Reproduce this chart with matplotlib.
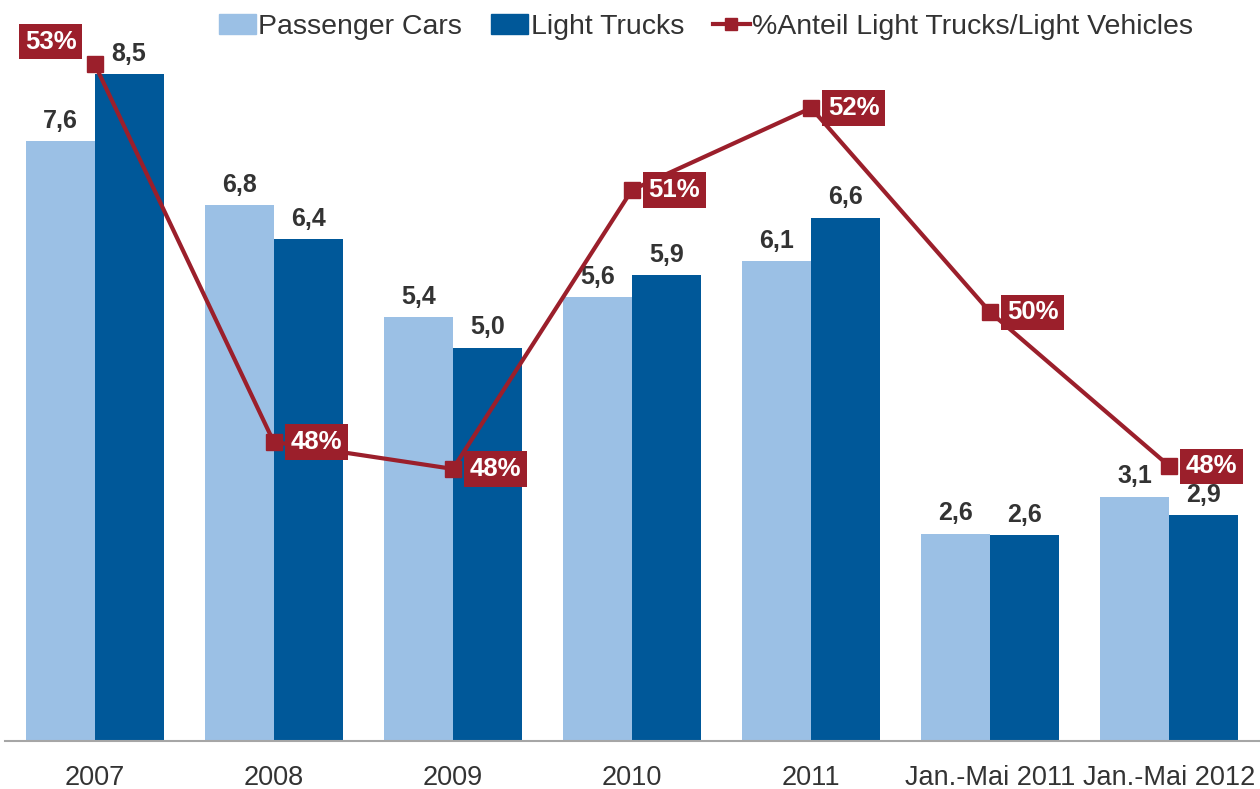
import matplotlib
matplotlib.use("Agg")
import matplotlib.pyplot as plt
import numpy as np
from matplotlib.patches import Patch
from matplotlib.lines import Line2D

plt.rcParams['font.family'] = ['Liberation Sans', 'DejaVu Sans']

categories = ["2007", "2008", "2009", "2010", "2011", "Jan.-Mai 2011", "Jan.-Mai 2012"]
passenger_cars = [7.61, 6.80, 5.38, 5.63, 6.09, 2.63, 3.10]
light_trucks = [8.46, 6.37, 4.99, 5.91, 6.64, 2.61, 2.87]
share_pct = [52.59, 48.39, 48.09, 51.19, 52.10, 49.83, 48.12]

c_light = "#9BC0E5"
c_dark = "#005899"
c_red = "#9B1F2B"
c_text = "#333333"

fig = plt.figure(figsize=(12.6, 7.89), dpi=100)
ax = fig.add_axes([5/1260, 48/789, 1254/1260, 741/789])
x = np.arange(len(categories))
w = 0.385

b1 = ax.bar(x - w/2, passenger_cars, w, color=c_light, zorder=2)
b2 = ax.bar(x + w/2, light_trucks, w, color=c_dark, zorder=2)

for bars, vals in ((b1, passenger_cars), (b2, light_trucks)):
    for r, v in zip(bars, vals):
        ax.annotate(f"{v:.1f}".replace(".", ","), (r.get_x() + r.get_width()/2, r.get_height()),
                    xytext=(0, 6), textcoords="offset points", ha="center", va="bottom",
                    fontsize=18, fontweight="bold", color=c_text)

ax.set_xlim(-0.5, len(categories) - 0.5)
ax.set_ylim(0, 741/78.8)
ax.set_yticks([])
ax.set_xticks(x)
ax.set_xticklabels(categories, fontsize=19.5, color=c_text)
ax.tick_params(axis='x', length=0, pad=17)
for s in ("top", "right", "left"):
    ax.spines[s].set_visible(False)
ax.spines["bottom"].set_color("#A6A6A6")
ax.spines["bottom"].set_linewidth(1.5)
ax.patch.set_alpha(0)

ax2 = ax.twinx()
ax2.set_ylim(53.3 - 741/90, 53.3)
ax2.set_yticks([])
for s in ax2.spines.values():
    s.set_visible(False)
ax2.plot(x, share_pct, color=c_red, lw=3, marker="s", markersize=11, zorder=5)

for i, (xi, p) in enumerate(zip(x, share_pct)):
    if i == 0:
        off, ha, va = (-13, 16), "right", "center"
    else:
        off, ha, va = (12, 0), "left", "center"
    ax2.annotate(f"{p:.0f}%", (xi, p), xytext=off, textcoords="offset points",
                 ha=ha, va=va, fontsize=18.5, fontweight="bold", color="white",
                 bbox=dict(boxstyle="square,pad=0.22", fc=c_red, ec="none"), zorder=6)

handles = [Patch(color=c_light, label="Passenger Cars"),
           Patch(color=c_dark, label="Light Trucks"),
           Line2D([0], [0], color=c_red, lw=3, marker="s", markersize=9,
                  label="%Anteil Light Trucks/Light Vehicles")]
fig.legend(handles=handles, loc="center", bbox_to_anchor=(706/1260, 1 - 27/789), ncol=3,
           frameon=False, fontsize=20.5, handlelength=1.3, handletextpad=0.1,
           columnspacing=1.0, labelcolor=c_text)

fig.savefig("out.png", dpi=100)
